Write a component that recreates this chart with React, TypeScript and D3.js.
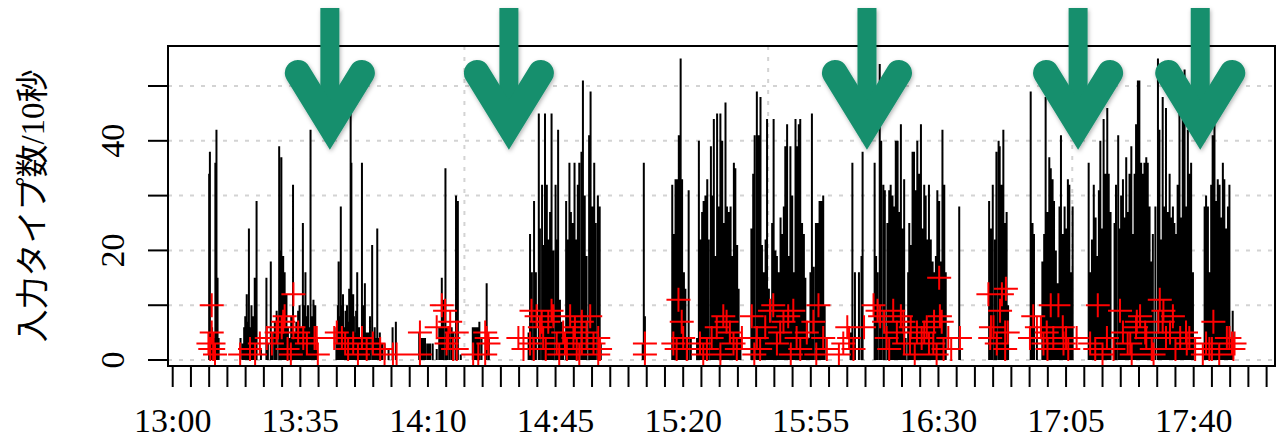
import * as d3 from 'd3';

// keystrokes per 10 s, as [minutes after 13:00, count]
const session1: [number, number][] = [
  [10.0, 34], [10.2, 38], [10.5, 5], [10.8, 6], [11.1, 5], [11.4, 4], [11.7, 36], [11.9, 8], [12.0, 42], [12.3, 15], [12.6, 4],
];
const session2: [number, number][] = [
  [18.6, 4], [19.2, 3], [19.6, 6], [19.9, 8], [20.3, 12], [20.7, 7], [20.9, 24], [21.3, 6], [21.6, 10], [22.0, 8], [22.5, 15],
  [22.8, 10], [23.0, 29], [24.2, 2], [25.7, 15], [26.1, 3], [26.9, 18], [27.4, 5], [28.0, 7], [28.5, 9], [29.2, 39], [29.4, 20],
  [29.8, 37], [30.1, 18], [30.3, 19], [30.5, 16], [30.7, 16], [31.0, 12], [31.2, 12], [31.6, 6], [32.1, 4], [32.5, 8], [33.0, 32],
  [33.5, 5], [33.9, 7], [34.4, 9], [34.8, 10], [35.3, 6], [35.7, 25], [36.1, 10], [36.4, 16], [36.7, 8], [37.1, 10], [37.5, 6],
  [37.8, 42], [38.2, 8], [38.6, 11], [38.9, 9], [39.1, 10], [39.5, 4],
];
const session3: [number, number][] = [
  [44.9, 6], [45.3, 10], [45.5, 18], [45.8, 8], [46.1, 28], [46.3, 10], [46.7, 12], [47.2, 6], [47.4, 9], [47.8, 10], [48.1, 7],
  [48.4, 13], [48.6, 9], [48.8, 45], [49.0, 36], [49.3, 11], [49.5, 12], [49.7, 8], [49.9, 5], [50.3, 9], [50.6, 16], [51.1, 6],
  [51.6, 4], [51.9, 36], [52.3, 10], [52.7, 14], [53.1, 5], [53.6, 5], [54.1, 8], [54.7, 21], [55.0, 5], [55.4, 6], [55.8, 4],
  [56.1, 24], [56.5, 4], [56.8, 5], [57.4, 3], [58.1, 3], [59.2, 2], [60.3, 6], [61.2, 7],
];
const session4: [number, number][] = [
  [67.6, 5], [68.3, 4], [68.8, 4], [69.2, 4], [69.8, 3], [70.2, 3], [70.6, 3], [71.3, 3], [72.4, 2], [73.1, 6], [73.5, 6],
  [73.8, 15], [74.2, 11], [74.8, 35], [75.3, 6], [75.9, 6], [76.5, 6], [77.0, 5], [77.7, 30], [78.2, 29], [79.0, 1],
  [82.3, 6], [82.6, 6], [82.9, 6], [83.2, 6], [83.6, 6], [84.1, 7], [84.7, 4], [86.1, 14], [86.7, 4],
];
const session5: [number, number][] = [
  [97.6, 5], [98.0, 23], [98.5, 16], [99.1, 29], [99.6, 16], [100.4, 45], [100.7, 24], [101.3, 32], [101.7, 21], [102.1, 45],
  [102.6, 32], [103.0, 22], [103.5, 27], [103.9, 45], [104.4, 20], [105.0, 32], [105.3, 22], [105.7, 42], [106.2, 11], [106.7, 7],
  [107.1, 4], [107.9, 29], [108.3, 22], [108.8, 36], [109.2, 27], [109.7, 25], [110.2, 36], [110.6, 22], [111.1, 32], [111.5, 36],
  [112.1, 38], [112.5, 51], [113.0, 30], [113.5, 19], [114.2, 41], [114.6, 49], [115.1, 28], [115.6, 36], [116.0, 25], [116.6, 30],
  [117.1, 28], [117.4, 3],
];
const session6: [number, number][] = [
  [128.9, 3], [129.2, 36], [129.5, 8],
];
const session7: [number, number][] = [
  [137.0, 32], [137.4, 23], [137.9, 33], [138.4, 33], [138.8, 41], [139.3, 55], [139.7, 33], [140.2, 16], [140.6, 13], [141.5, 31],
  [142.1, 4], [143.8, 4], [144.3, 40], [144.7, 22], [145.2, 27], [145.6, 29], [146.1, 30], [146.6, 33], [147.0, 22], [147.6, 39],
  [147.9, 30], [148.4, 44], [148.8, 19], [149.3, 45], [149.8, 28], [150.2, 45], [150.7, 40], [151.1, 25], [151.6, 47], [152.0, 28],
  [152.5, 27], [153.0, 28], [153.4, 19], [153.9, 36], [154.3, 35], [154.8, 21], [155.2, 13], [155.7, 4],
];
const session8: [number, number][] = [
  [158.7, 24], [159.2, 34], [159.6, 41], [160.2, 49], [160.7, 41], [161.2, 48], [161.6, 21], [162.1, 16], [162.6, 22], [163.0, 44],
  [163.5, 13], [164.0, 7], [164.4, 25], [164.8, 44], [165.3, 20], [165.7, 19], [166.2, 16], [166.7, 26], [167.1, 23], [167.6, 28],
  [168.0, 39], [168.5, 43], [168.9, 19], [169.4, 39], [169.9, 30], [170.3, 16], [170.8, 44], [171.2, 39], [171.7, 43], [172.1, 44],
  [172.6, 25], [173.1, 23], [173.5, 15], [174.0, 7], [174.4, 4], [174.9, 16], [175.3, 45], [175.8, 17], [176.4, 25], [176.9, 25],
  [177.4, 29], [177.9, 29], [178.4, 30], [178.8, 10],
];
const session9: [number, number][] = [
  [185.9, 5], [186.4, 36], [187.1, 16], [188.2, 16], [188.9, 19], [189.2, 38],
  [192.5, 36], [192.9, 19], [193.3, 16], [193.9, 54], [194.3, 40], [194.9, 32], [195.3, 31], [196.0, 25], [196.5, 31], [196.9, 32],
  [197.4, 30], [197.8, 28], [198.3, 40], [198.8, 40], [199.2, 27], [199.7, 43], [200.1, 24], [200.6, 33], [201.0, 4], [201.7, 16],
  [202.0, 25], [202.4, 21], [202.9, 38], [203.3, 38], [203.8, 31], [204.2, 40], [204.7, 34], [205.2, 43], [205.6, 24], [206.1, 32],
  [206.5, 30], [207.0, 22], [207.4, 32], [207.9, 22], [208.4, 18], [208.8, 16], [209.3, 19], [209.7, 31], [210.2, 29], [210.6, 18],
  [211.1, 42], [211.6, 32], [212.0, 16], [215.7, 28], [215.9, 2],
];
const session10: [number, number][] = [
  [223.9, 29], [224.4, 24], [224.9, 32], [225.5, 22], [225.9, 38], [226.5, 40], [226.8, 39], [227.3, 32], [227.8, 42], [228.3, 25],
  [228.7, 27], [229.1, 10],
];
const session11: [number, number][] = [
  [235.3, 49], [235.8, 25], [236.2, 23], [237.0, 6], [238.5, 18], [239.0, 23], [239.4, 48], [239.9, 27], [240.4, 37], [240.8, 35],
  [241.3, 33], [241.7, 29], [242.2, 20], [242.7, 14], [243.2, 28], [243.6, 41], [244.1, 23], [244.6, 28], [245.0, 24], [245.5, 33],
  [245.9, 32], [246.4, 16], [246.8, 28],
];
const session12: [number, number][] = [
  [251.2, 36], [251.7, 16], [252.1, 22], [252.6, 32], [253.1, 26], [253.5, 19], [254.0, 31], [254.4, 40], [254.9, 24], [255.3, 44],
  [255.8, 34], [256.3, 46], [256.7, 34], [257.2, 27], [258.3, 25], [258.7, 32], [259.3, 41], [259.6, 24], [260.1, 30], [260.6, 33],
  [261.0, 26], [261.5, 37], [261.9, 27], [262.4, 34], [262.9, 39], [263.3, 23], [263.8, 34], [264.2, 43], [264.7, 51], [265.1, 51],
  [265.6, 36], [266.0, 34], [266.5, 36], [267.0, 37], [267.4, 36], [267.9, 28], [268.3, 18], [268.8, 23], [269.5, 28], [270.2, 55],
  [270.6, 42], [271.1, 22], [271.5, 48], [272.0, 28], [272.4, 46], [272.9, 27], [273.4, 34], [273.8, 26], [274.3, 28], [274.7, 25],
  [275.2, 23], [275.6, 32], [276.1, 45], [276.6, 26], [277.0, 45], [277.5, 53], [277.9, 28], [278.4, 42], [278.8, 34], [279.3, 36],
  [279.8, 16],
  [283.0, 28], [283.4, 30], [283.9, 28], [284.3, 16], [284.8, 32], [285.2, 41], [285.7, 43], [286.2, 29], [286.6, 33], [287.1, 32],
  [287.5, 26], [288.0, 36], [288.4, 33], [288.9, 24], [289.4, 28], [289.8, 32], [290.3, 4], [290.7, 9],
];

// red + marks, [minutes after 13:00, value]
const marks: [number, number][] = [
  [9.8, 3], [10.3, 2], [10.7, 10], [10.7, 5], [11.1, 2], [11.2, 3], [11.6, 1],
  [18.5, 1], [21.2, 2], [22.6, 1], [23.9, 3], [25.8, 4], [27.2, 3], [28.5, 5], [28.9, 6], [29.9, 6], [30.3, 7], [30.7, 8],
  [31.5, 2], [32.4, 1], [33.1, 12], [33.1, 6], [34.4, 5], [35.8, 4], [36.8, 3], [38.9, 4], [39.5, 4], [39.8, 1],
  [44.3, 4], [45.0, 5], [46.4, 4], [47.3, 3], [48.1, 2], [49.5, 3], [50.8, 1], [51.9, 4], [53.2, 2], [54.9, 3], [56.9, 2], [58.1, 1],
  [60.4, 1], [61.4, 1], [67.8, 5], [67.8, 1], [72.4, 6], [73.8, 10], [74.7, 9], [75.1, 3], [75.6, 4], [76.1, 7], [76.9, 2],
  [77.9, 5], [77.9, 2], [82.4, 1], [83.8, 1], [85.7, 5], [85.7, 1], [86.1, 4], [86.6, 3],
  [94.8, 4], [96.2, 4], [96.2, 2], [98.0, 3], [98.4, 9], [99.0, 2], [99.8, 8], [100.7, 6], [101.2, 7], [101.6, 4], [102.3, 2],
  [103.0, 7], [103.9, 9], [104.4, 8], [105.3, 3], [106.0, 1], [107.1, 5], [107.6, 3], [108.1, 2], [109.0, 8], [109.9, 4],
  [110.3, 6], [110.8, 2], [111.5, 1], [112.2, 7], [112.2, 3], [113.5, 5], [113.5, 4], [114.5, 8], [115.4, 3], [116.7, 4],
  [116.7, 1], [117.2, 2],
  [129.5, 3], [129.5, 1],
  [137.3, 3], [138.2, 2], [138.7, 11], [139.6, 7], [140.0, 4], [141.0, 2], [144.6, 3], [145.5, 1], [146.5, 2], [147.8, 4],
  [149.2, 6], [150.2, 1], [151.0, 8], [151.9, 7], [152.8, 5], [153.8, 3], [154.7, 2], [156.1, 4],
  [158.8, 8], [159.5, 1], [160.2, 4], [161.1, 2], [162.5, 6], [163.8, 9], [164.7, 10], [165.7, 3], [166.6, 5], [167.5, 7],
  [168.8, 8], [169.5, 1], [170.2, 9], [171.1, 4], [172.1, 2], [173.9, 5], [175.7, 7], [176.5, 1], [177.1, 10], [178.4, 4], [179.4, 2],
  [182.7, 1], [183.9, 3], [185.0, 6], [185.5, 4], [186.7, 2], [189.6, 6], [192.2, 10], [193.3, 9], [194.0, 8], [195.1, 7],
  [195.8, 4], [196.5, 2], [197.6, 9], [198.6, 5], [199.7, 8], [200.4, 7], [200.6, 3], [202.2, 3], [202.4, 6], [203.5, 1],
  [204.1, 5], [205.4, 4], [206.1, 5], [206.8, 6], [207.4, 3], [208.6, 3], [208.8, 7], [209.5, 1], [210.2, 15], [210.4, 8],
  [210.9, 7], [211.4, 2], [212.7, 4], [213.5, 2], [215.9, 4],
  [223.7, 12], [224.2, 4], [224.4, 6], [225.1, 6], [226.0, 3], [226.9, 9], [227.4, 12], [228.3, 5], [228.3, 2], [228.5, 13], [229.0, 5],
  [235.1, 4], [236.0, 8], [237.0, 6], [238.1, 6], [238.8, 3], [239.7, 5], [239.9, 2], [240.8, 10], [241.5, 4], [242.9, 10],
  [244.1, 6], [244.3, 3], [245.0, 4], [245.6, 2], [247.9, 4],
  [251.6, 3], [253.0, 2], [253.7, 10], [255.0, 1], [256.2, 4], [258.0, 2], [259.8, 9], [260.6, 5], [261.9, 3], [262.6, 3],
  [263.0, 1], [264.2, 6], [264.4, 7], [265.3, 8], [266.7, 5], [267.0, 4], [268.5, 2], [269.0, 1], [270.3, 7], [270.7, 11],
  [271.5, 7], [271.7, 9], [272.4, 4], [273.5, 5], [274.3, 8], [275.0, 2], [276.3, 4], [277.9, 5], [278.1, 3], [278.8, 4],
  [280.4, 2], [282.5, 1], [283.4, 3], [284.3, 2], [285.0, 2], [285.4, 7], [287.0, 1], [289.1, 4], [289.8, 4], [290.5, 3],
  [290.9, 2], [291.2, 3],
];

const xLabels = ['13:00', '13:35', '14:10', '14:45', '15:20', '15:55', '16:30', '17:05', '17:40'];
const yTicks = [0, 10, 20, 30, 40, 50];
const yLabels = [0, 20, 40];
const gridMinutes = [80, 163.3, 246.7];
const arrowMinutes = [43.1, 92.2, 190.4, 248.3, 281.8];
const yTitle = '入力タイプ数/10秒';

const toMin = (s: string) => {
  const [h, m] = s.split(':').map(Number);
  return (h - 13) * 60 + m;
};

export default function App() {
  const left = 168, right = 1275, top = 46, bottom = 366;
  const x = d3.scaleLinear().domain([-1.29, 302.3]).range([left, right]);
  const y = d3.scaleLinear().domain([-1.09, 57.3]).range([bottom, top]);

  const spikes = [
    ...session1, ...session2, ...session3, ...session4, ...session5, ...session6,
    ...session7, ...session8, ...session9, ...session10, ...session11, ...session12,
  ];
  const spikePath = spikes.map(([t, v]) => `M${x(t)},${y(0)}V${y(v)}`).join('');
  const markPath = marks
    .map(([t, v]) => `M${x(t) - 12},${y(v)}H${x(t) + 12}M${x(t)},${y(v) - 12}V${y(v) + 12}`)
    .join('');
  const xTicks = d3.range(0, 301, 5);
  const green = '#178f6d';
  const serif = '"Liberation Serif", "DejaVu Serif", serif';

  return (
    <svg width={1282} height={440} style={{ position: 'absolute', left: 0, top: 0, background: '#fff' }}>
      <defs>
        <clipPath id="plot">
          <rect x={left} y={top} width={right - left} height={bottom - top} />
        </clipPath>
        <filter id="shadow" x="-30%" y="-30%" width="160%" height="160%">
          <feDropShadow dx="1" dy="2" stdDeviation="2" floodColor="#000" floodOpacity="0.3" />
        </filter>
      </defs>
      <rect width={1282} height={440} fill="#fff" />

      <g stroke="#d3d3d3" strokeWidth={2} strokeDasharray="4 7">
        {yTicks.map(v => (
          <line key={'h' + v} x1={left} x2={right} y1={y(v)} y2={y(v)} />
        ))}
        {gridMinutes.map(t => (
          <line key={'v' + t} x1={x(t)} x2={x(t)} y1={top} y2={bottom} />
        ))}
      </g>

      <g clipPath="url(#plot)">
        <path d={spikePath} stroke="#000" strokeWidth={2} fill="none" />
        <path d={markPath} stroke="#ff0000" strokeWidth={2} fill="none" />
      </g>

      <rect x={left} y={top} width={right - left} height={bottom - top} fill="none" stroke="#000" strokeWidth={2} />

      <g stroke="#000" strokeWidth={2}>
        {xTicks.map(t => (
          <line key={t} x1={x(t)} x2={x(t)} y1={bottom} y2={bottom + 21} />
        ))}
        {yTicks.map(v => (
          <line key={v} x1={left - 20} x2={left} y1={y(v)} y2={y(v)} />
        ))}
      </g>

      <g fontFamily={serif} fontSize={34} fill="#000" textAnchor="middle">
        {xLabels.map(s => (
          <text key={s} x={x(toMin(s))} y={432}>{s}</text>
        ))}
        {yLabels.map(v => (
          <text key={v} x={124} y={y(v)} transform={`rotate(-90, 124, ${y(v)})`}>{v}</text>
        ))}
      </g>

      <text
        x={33}
        y={206}
        transform="rotate(-90, 33, 206)"
        textAnchor="middle"
        dominantBaseline="central"
        fontFamily={'"Liberation Serif", "Noto Sans CJK JP", serif'}
        fontSize={33}
        fill="#000"
      >
        {yTitle}
      </text>

      <g filter="url(#shadow)" fill="none" stroke={green}>
        {arrowMinutes.map(t => {
          const ax = x(t);
          const tip = 150;
          const join = tip - 25;
          return (
            <g key={t}>
              <line x1={ax} x2={ax} y1={8} y2={join} strokeWidth={19} />
              <path
                d={`M${ax - 32},${tip - 77}L${ax},${join}L${ax + 32},${tip - 77}`}
                strokeWidth={26}
                strokeLinecap="round"
                strokeLinejoin="miter"
              />
            </g>
          );
        })}
      </g>
    </svg>
  );
}
